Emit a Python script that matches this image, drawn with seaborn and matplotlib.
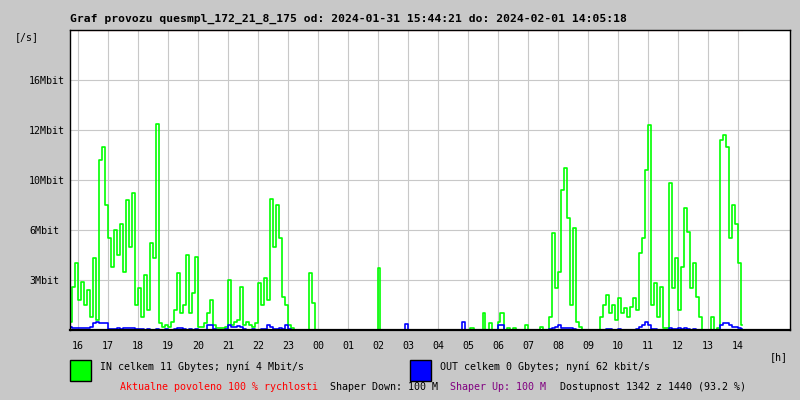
import numpy as np
import matplotlib
matplotlib.use('Agg')
import matplotlib.pyplot as plt
import seaborn as sns
from matplotlib.patches import Rectangle

# samples every 6 minutes, first one at 15:44 (hours counted from 16:00)
START_H = -16 / 60
STEP_H = 0.1

# IN traffic [Mbit/s], one row = one hour (10 samples)
IN_MBIT = [
    0.5, 2.6, 4.0, 1.8, 2.9, 1.5, 2.4, 0.8, 4.3, 0.6,
    10.8, 11.3, 8.0, 5.5, 3.8, 6.0, 4.5, 6.5, 3.5, 8.4,
    5.0, 9.0, 1.5, 2.5, 0.8, 3.3, 1.2, 5.2, 4.3, 12.5,
    0.4, 0.2, 0.3, 0.2, 0.5, 1.2, 3.4, 1.0, 1.5, 4.5,
    1.0, 2.2, 4.4, 0.2, 0.2, 0.4, 1.0, 1.8, 0.3, 0.1,
    0.1, 0.1, 0.2, 3.0, 0.3, 0.5, 0.6, 2.6, 0.3, 0.5,
    0.3, 0.2, 0.4, 2.8, 1.5, 3.1, 1.8, 8.5, 5.0, 8.0,
    5.5, 2.0, 1.5, 0.3, 0.1, 0, 0, 0, 0, 0,
    3.4, 1.6, 0, 0, 0, 0, 0, 0, 0, 0,
    0, 0, 0, 0, 0, 0, 0, 0, 0, 0,
    0, 0, 0, 3.7, 0, 0, 0, 0, 0, 0,
    0, 0, 0, 0, 0, 0, 0, 0, 0, 0,
    0, 0, 0, 0, 0, 0, 0, 0, 0, 0,
    0, 0, 0, 0, 0.1, 0, 0, 0, 1.0, 0,
    0.4, 0, 0, 0.5, 1.0, 0, 0.1, 0, 0.1, 0,
    0, 0, 0.3, 0, 0, 0, 0, 0.2, 0, 0,
    0.8, 5.8, 2.5, 3.5, 9.2, 10.5, 7.0, 1.5, 6.2, 0.5,
    0.2, 0, 0, 0, 0, 0, 0, 0.8, 1.5, 2.1,
    1.0, 1.5, 0.6, 1.9, 1.0, 1.3, 0.8, 1.4, 1.9, 1.2,
    4.6, 5.5, 10.4, 12.4, 1.5, 2.8, 0.8, 2.6, 0.1, 0.1,
    9.8, 2.5, 4.3, 1.2, 3.8, 7.8, 5.9, 2.5, 4.0, 2.0,
    0.8, 0, 0, 0, 0.8, 0, 0.1, 11.6, 11.8, 11.3,
    5.5, 8.0, 6.5, 4.0, 0.3,
]

# OUT traffic [Mbit/s]
OUT_MBIT = [
    0.2, 0.15, 0.15, 0.1, 0.15, 0.1, 0.1, 0.2, 0.45, 0.5,
    0.45, 0.4, 0.4, 0.05, 0.05, 0.05, 0.1, 0.05, 0.1, 0.15,
    0.15, 0.1, 0.05, 0.05, 0.05, 0, 0.05, 0, 0, 0.05,
    0, 0, 0.05, 0, 0, 0.05, 0.15, 0.1, 0.05, 0,
    0.05, 0, 0.05, 0, 0, 0, 0.3, 0.3, 0.05, 0,
    0, 0, 0.05, 0.3, 0.2, 0.2, 0.25, 0.2, 0.05, 0,
    0, 0.05, 0, 0, 0.05, 0.05, 0.3, 0.2, 0.05, 0.05,
    0.1, 0.05, 0.3, 0.05, 0, 0, 0, 0, 0, 0,
    0, 0, 0, 0, 0, 0, 0, 0, 0, 0,
    0, 0, 0, 0, 0, 0, 0, 0, 0, 0,
    0, 0, 0, 0, 0, 0, 0, 0, 0, 0,
    0, 0, 0.35, 0, 0, 0, 0, 0, 0, 0,
    0, 0, 0, 0, 0, 0, 0, 0, 0, 0,
    0, 0.5, 0, 0, 0, 0, 0, 0, 0, 0,
    0, 0, 0, 0.3, 0.3, 0, 0, 0, 0, 0,
    0, 0, 0, 0, 0, 0, 0, 0, 0, 0,
    0.05, 0.15, 0.2, 0.3, 0.15, 0.15, 0.1, 0.1, 0.05, 0,
    0, 0, 0, 0, 0, 0, 0, 0, 0, 0.05,
    0.05, 0, 0, 0.05, 0, 0, 0, 0, 0, 0.05,
    0.2, 0.3, 0.5, 0.3, 0.05, 0.05, 0, 0, 0, 0,
    0.1, 0.05, 0.05, 0.1, 0.05, 0.1, 0.05, 0, 0.05, 0,
    0, 0, 0, 0, 0, 0, 0, 0.3, 0.45, 0.4,
    0.3, 0.2, 0.2, 0.1, 0.05,
]

HOUR_LABELS = ['16', '17', '18', '19', '20', '21', '22', '23', '00', '01', '02', '03',
               '04', '05', '06', '07', '08', '09', '10', '11', '12', '13', '14']
Y_TICKS = [3, 6, 10, 12, 16]
Y_LABELS = ['3Mbit', '6Mbit', '10Mbit', '12Mbit', '16Mbit']
MAX_MBIT = 20

# the original y axis is not linear: every gridline is one equal step
SCALE_MBIT = [0, 3, 6, 10, 12, 16, 20]
SCALE_POS = [0, 1, 2, 3, 4, 5, 6]


def fwd(v):
    return np.interp(v, SCALE_MBIT, SCALE_POS)


def inv(u):
    return np.interp(u, SCALE_POS, SCALE_MBIT)


def px(x, y):
    return x / 800, 1 - y / 400


plt.rcParams['font.family'] = 'DejaVu Sans Mono'
BG = '#c8c8c8'
FS = 7.2

fig = plt.figure(figsize=(8, 4), dpi=100, facecolor=BG)
ax = fig.add_axes([70 / 800, 70 / 400, 720 / 800, 300 / 400])
ax.set_facecolor('white')

t = START_H + STEP_H * np.arange(len(IN_MBIT))

ax.set_yscale('function', functions=(fwd, inv))
sns.lineplot(x=t, y=IN_MBIT, ax=ax, color='#00ff00', lw=1.2, drawstyle='steps-mid', zorder=3)
sns.lineplot(x=t, y=OUT_MBIT, ax=ax, color='#0000ff', lw=1.2, drawstyle='steps-mid', zorder=4)
ax.plot([t[0], t[-1]], [MAX_MBIT, MAX_MBIT], color='red', lw=1.5, zorder=4)

ax.set_xlim(START_H, START_H + 24)
ax.set_ylim(0, MAX_MBIT)
ax.set_xticks(range(len(HOUR_LABELS)), HOUR_LABELS, fontsize=FS)
ax.set_yticks(Y_TICKS, Y_LABELS, fontsize=FS)
ax.yaxis.set_minor_locator(matplotlib.ticker.NullLocator())
for lbl in ax.get_yticklabels():
    lbl.set_ha('left')
ax.tick_params(axis='y', length=0, pad=29.5)
ax.tick_params(axis='x', length=0, pad=8)
ax.grid(True, color=BG, lw=0.8)
ax.set_axisbelow(True)
for sp in ax.spines.values():
    sp.set_color('black')
    sp.set_linewidth(1.0)
    sp.set_zorder(6)
ax.spines['bottom'].set_linewidth(1.6)

fig.text(*px(70, 19), 'Graf provozu quesmpl_172_21_8_175 od: 2024-01-31 15:44:21 do: 2024-02-01 14:05:18',
         fontsize=8.2, fontweight='bold', va='center', ha='left')
fig.text(*px(15, 37), '[/s]', fontsize=FS, va='center', ha='left')
fig.text(*px(770, 357), '[h]', fontsize=FS, va='center', ha='left')

fig.add_artist(Rectangle(px(70, 381), 21 / 800, 21 / 400, transform=fig.transFigure,
                         facecolor='#00ff00', edgecolor='black', lw=1))
fig.add_artist(Rectangle(px(410, 381), 21 / 800, 21 / 400, transform=fig.transFigure,
                         facecolor='#0000ff', edgecolor='black', lw=1))
fig.text(*px(100, 367), 'IN celkem 11 Gbytes; nyní 4 Mbit/s', fontsize=FS, va='center', ha='left')
fig.text(*px(440, 367), 'OUT celkem 0 Gbytes; nyní 62 kbit/s', fontsize=FS, va='center', ha='left')

fig.text(*px(120, 387), 'Aktualne povoleno 100 % rychlosti', fontsize=FS, va='center', ha='left', color='red')
fig.text(*px(330, 387), 'Shaper Down: 100 M', fontsize=FS, va='center', ha='left', color='black')
fig.text(*px(450, 387), 'Shaper Up: 100 M', fontsize=FS, va='center', ha='left', color='#800080')
fig.text(*px(560, 387), 'Dostupnost 1342 z 1440 (93.2 %)', fontsize=FS, va='center', ha='left', color='black')

fig.savefig('out.png', dpi=100, facecolor=BG)
